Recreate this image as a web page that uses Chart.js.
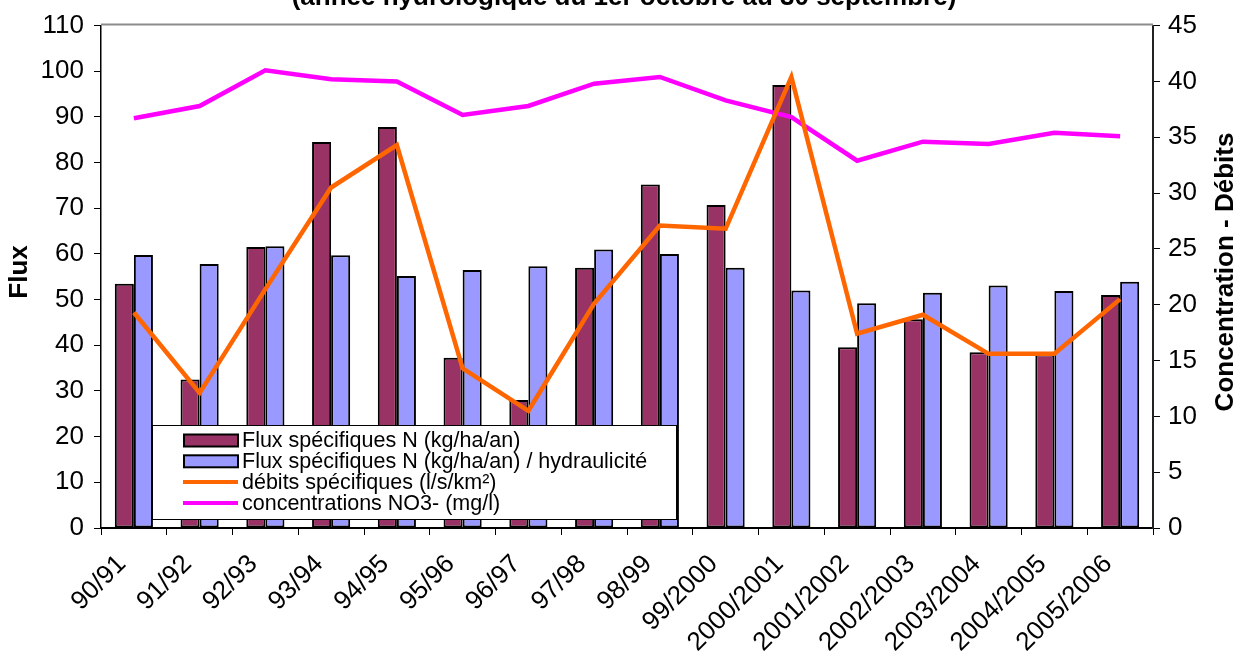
<!DOCTYPE html>
<html>
<head>
<meta charset="utf-8">
<script src="https://cdn.jsdelivr.net/npm/chart.js@4.4.1/dist/chart.umd.min.js"></script>
<style>
  html, body { margin: 0; padding: 0; background: #fff; }
  #chart { display: block; }
</style>
</head>
<body>
<canvas id="chart" width="1240" height="662"></canvas>
<script>
// Hydrological years (1 Oct - 30 Sep)
const YEARS = ['90/91', '91/92', '92/93', '93/94', '94/95', '95/96', '96/97', '97/98',
               '98/99', '99/2000', '2000/2001', '2001/2002', '2002/2003', '2003/2004',
               '2004/2005', '2005/2006'];

// left axis (Flux)
const FLUX       = [53.5, 32.5, 61.5, 84.5, 87.8, 37.3, 28.0, 57.0, 75.2, 70.7, 97.0, 39.6, 45.7, 38.5, 38.0, 51.0];
const FLUX_HYDRO = [59.8, 57.8, 61.7, 59.7, 55.2, 56.5, 57.3, 61.0, 60.0, 57.0, 52.0, 49.2, 51.5, 53.1, 51.9, 53.9];

// right axis (Concentration - Débits)
const DEBITS = [19.3, 12.1, 21.4, 30.5, 34.3, 14.3, 10.5, 20.1, 27.1, 26.8, 40.4, 17.4, 19.1, 15.6, 15.6, 20.5];
const NO3    = [36.7, 37.8, 41.0, 40.2, 40.0, 37.0, 37.8, 39.8, 40.4, 38.3, 36.8, 32.9, 34.6, 34.4, 35.4, 35.1];

const FLUX_RANGE = [0, 110, 10];   // min, max, step
const CONC_RANGE = [0, 45, 5];

const LABELS = {
    title: '(année hydrologique du 1er octobre au 30 septembre)',
    left: 'Flux',
    right: 'Concentration - Débits',
    flux: 'Flux spécifiques N (kg/ha/an)',
    hydro: 'Flux spécifiques N (kg/ha/an) / hydraulicité',
    debits: 'débits spécifiques (l/s/km²)',
    no3: 'concentrations NO3- (mg/l)',
};

const COLORS = {
    flux:  '#993366',
    hydro: '#9999ff',
    debit: '#ff6600',
    no3:   '#ff00ff',
    ink:   '#000000',
    frame: '#8c8c8c',
};

const FONT = "'Liberation Sans', Arial, Helvetica, sans-serif";
const W = 1240, H = 662;
const AREA = { left: 101, right: 1153, top: 23, bottom: 528 };

Chart.defaults.font.family = FONT;
Chart.defaults.color = COLORS.ink;

// titles, legend box and top frame line, drawn over the plot
const decor = {
    id: 'decor',
    afterDraw(chart) {
        const { ctx, chartArea: a } = chart;
        ctx.save();

        // grey top edge of the plot area
        ctx.strokeStyle = COLORS.frame;
        ctx.lineWidth = 2;
        ctx.beginPath();
        ctx.moveTo(a.left, a.top - 1);
        ctx.lineTo(a.right, a.top - 1);
        ctx.stroke();

        // title (cut off by the top of the picture)
        ctx.fillStyle = COLORS.ink;
        ctx.font = 'bold 26px ' + FONT;
        ctx.textAlign = 'center';
        ctx.textBaseline = 'alphabetic';
        ctx.fillText(LABELS.title, 624, 5);

        // axis titles
        ctx.textBaseline = 'middle';
        ctx.save();
        ctx.translate(20, 272);
        ctx.rotate(-Math.PI / 2);
        ctx.fillText(LABELS.left, 0, 0);
        ctx.restore();
        ctx.save();
        ctx.translate(1226, 272);
        ctx.rotate(-Math.PI / 2);
        ctx.fillText(LABELS.right, 0, 0);
        ctx.restore();

        // legend
        const box = { x: 152.5, y: 425.5, w: 524, h: 94 };
        ctx.fillStyle = '#fff';
        ctx.fillRect(box.x, box.y, box.w, box.h);
        ctx.strokeStyle = COLORS.ink;
        ctx.lineWidth = 1;
        ctx.strokeRect(box.x, box.y, box.w, box.h);

        const rows = [
            { text: LABELS.flux,   type: 'bar',  color: COLORS.flux },
            { text: LABELS.hydro,  type: 'bar',  color: COLORS.hydro },
            { text: LABELS.debits, type: 'line', color: COLORS.debit },
            { text: LABELS.no3,    type: 'line', color: COLORS.no3 },
        ];
        ctx.font = '21.5px ' + FONT;
        ctx.textAlign = 'left';
        rows.forEach((r, i) => {
            const cy = 440.5 + i * 20.8;
            if (r.type === 'bar') {
                ctx.fillStyle = r.color;
                ctx.fillRect(184, cy - 6, 54, 12);
                ctx.strokeStyle = COLORS.ink;
                ctx.lineWidth = 2;
                ctx.strokeRect(184, cy - 6, 54, 12);
            } else {
                ctx.strokeStyle = r.color;
                ctx.lineWidth = 4;
                ctx.beginPath();
                ctx.moveTo(183, cy);
                ctx.lineTo(238, cy);
                ctx.stroke();
            }
            ctx.fillStyle = COLORS.ink;
            ctx.fillText(r.text, 242, cy + 1);
        });

        ctx.restore();
    },
};

const tickFont = { size: 26 };

new Chart(document.getElementById('chart'), {
    type: 'bar',
    data: {
        labels: YEARS,
        datasets: [
            {
                type: 'line',
                label: LABELS.debits,
                data: DEBITS,
                yAxisID: 'y2',
                borderColor: COLORS.debit,
                borderWidth: 4.5,
                pointRadius: 0,
                tension: 0,
                order: 0,
            },
            {
                type: 'line',
                label: LABELS.no3,
                data: NO3,
                yAxisID: 'y2',
                borderColor: COLORS.no3,
                borderWidth: 4.5,
                pointRadius: 0,
                tension: 0,
                order: 1,
            },
            {
                label: LABELS.flux,
                data: FLUX,
                yAxisID: 'y',
                backgroundColor: COLORS.flux,
                borderColor: COLORS.ink,
                borderWidth: 2,
                borderSkipped: false,
                barPercentage: 1,
                categoryPercentage: 0.58,
                order: 2,
            },
            {
                label: LABELS.hydro,
                data: FLUX_HYDRO,
                yAxisID: 'y',
                backgroundColor: COLORS.hydro,
                borderColor: COLORS.ink,
                borderWidth: 2,
                borderSkipped: false,
                barPercentage: 1,
                categoryPercentage: 0.58,
                order: 2,
            },
        ],
    },
    options: {
        responsive: false,
        animation: false,
        events: [],
        layout: { padding: { top: AREA.top, left: 0, right: 0, bottom: 0 } },
        plugins: {
            legend: { display: false },
            tooltip: { enabled: false },
            title: { display: false },
        },
        scales: {
            x: {
                offset: true,
                grid: { offset: true, drawOnChartArea: false, tickLength: 7, color: COLORS.ink, lineWidth: 1 },
                border: { color: COLORS.ink, width: 2 },
                ticks: { autoSkip: false, maxRotation: 45, minRotation: 45, padding: 14, labelOffset: -12, font: tickFont },
                afterFit: s => { s.height = H - AREA.bottom; },
            },
            y: {
                position: 'left',
                min: FLUX_RANGE[0],
                max: FLUX_RANGE[1],
                ticks: { stepSize: FLUX_RANGE[2], padding: 10, font: tickFont },
                grid: { drawOnChartArea: false, tickLength: 7, color: COLORS.ink },
                border: { color: COLORS.ink, width: 1.5 },
                afterFit: s => { s.width = AREA.left; },
            },
            y2: {
                position: 'right',
                min: CONC_RANGE[0],
                max: CONC_RANGE[1],
                ticks: { stepSize: CONC_RANGE[2], padding: 8, font: tickFont },
                grid: { drawOnChartArea: false, tickLength: 7, color: COLORS.ink },
                border: { color: '#222', width: 2 },
                afterFit: s => { s.width = W - AREA.right; },
            },
        },
    },
    plugins: [decor],
});
</script>
</body>
</html>
